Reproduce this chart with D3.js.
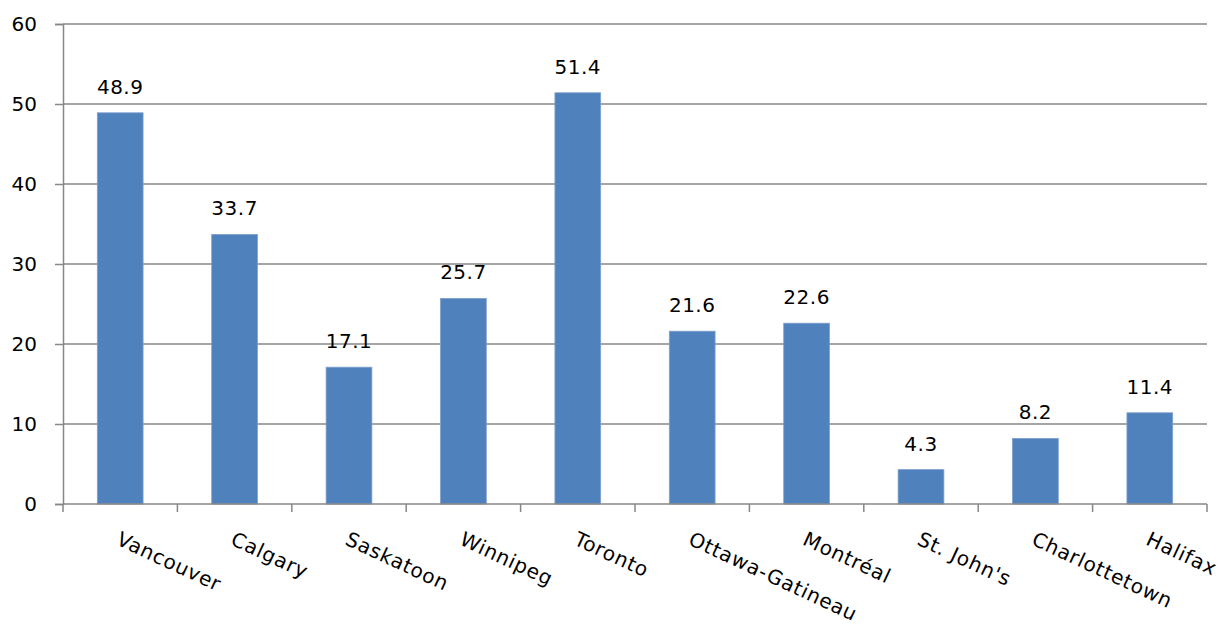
<!DOCTYPE html>
<html><head><meta charset="utf-8">
<script src="https://cdn.jsdelivr.net/npm/d3@7/dist/d3.min.js"></script>
<style>body{margin:0;background:#fff}svg{display:block}text{font-family:"DejaVu Sans",sans-serif;fill:#000}</style>
</head><body><svg id="c" width="1220" height="626"></svg>
<script>
const categories = ["Vancouver","Calgary","Saskatoon","Winnipeg","Toronto","Ottawa-Gatineau","Montréal","St. John's","Charlottetown","Halifax"];
const values = [48.9,33.7,17.1,25.7,51.4,21.6,22.6,4.3,8.2,11.4];
const yTicks = [0,10,20,30,40,50,60];

(function () {
const svg = d3.select("#c");
const mL = 63, mR = 1207, mT = 24, mB = 504;
const x = d3.scaleBand().domain(categories).range([mL, mR]).paddingInner(0.6).paddingOuter(0.3);
const xb = d3.scaleBand().domain(categories).range([mL, mR]);
const y = d3.scaleLinear().domain([0, 60]).range([mB, mT]);
const grid = "#878787";
const fs = "20px";

// gridlines
svg.append("g").selectAll("line").data(yTicks.filter(d => d > 0)).join("line")
  .attr("x1", mL).attr("x2", mR).attr("y1", d => y(d)).attr("y2", d => y(d))
  .attr("stroke", grid).attr("stroke-width", 1.5);

// y axis
const ya = svg.append("g").attr("transform", `translate(${mL},0)`)
  .call(d3.axisLeft(y).tickValues(yTicks).tickSize(8).tickPadding(18));
ya.attr("font-size", null).attr("font-family", null);
ya.select(".domain").attr("stroke", grid).attr("stroke-width", 1.5);
ya.selectAll(".tick line").attr("stroke", grid).attr("stroke-width", 1.5);
ya.selectAll(".tick text").style("font-size", fs).style("font-family", "DejaVu Sans").attr("fill", "#000");

// bars
svg.append("g").selectAll("rect").data(values).join("rect")
  .attr("x", (d, i) => x(categories[i])).attr("width", x.bandwidth())
  .attr("y", d => y(d)).attr("height", d => y(0) - y(d))
  .attr("fill", "#4F81BD").attr("stroke", "#7DA0CC").attr("stroke-width", 0.8);

// x axis
const xa = svg.append("g").attr("transform", `translate(0,${mB})`);
xa.append("line").attr("x1", mL).attr("x2", mR).attr("stroke", grid).attr("stroke-width", 1.5);
const bounds = categories.map(c => xb(c)).concat([mR]);
xa.selectAll("line.t").data(bounds).join("line").attr("class", "t")
  .attr("x1", d => d).attr("x2", d => d).attr("y1", 0).attr("y2", 8)
  .attr("stroke", grid).attr("stroke-width", 1.5);
xa.selectAll("text").data(categories).join("text")
  .attr("transform", d => `translate(${xb(d) + xb.bandwidth() / 2 - 5},${40}) rotate(25)`)
  .style("font-size", fs).style("letter-spacing", "0.8px").text(d => d);

// value labels
svg.append("g").selectAll("text").data(values).join("text")
  .attr("x", (d, i) => x(categories[i]) + x.bandwidth() / 2)
  .attr("y", d => y(d) - 19).attr("text-anchor", "middle")
  .style("font-size", fs).style("letter-spacing", "0.5px").text(d => d.toFixed(1));
})();
</script></body></html>
